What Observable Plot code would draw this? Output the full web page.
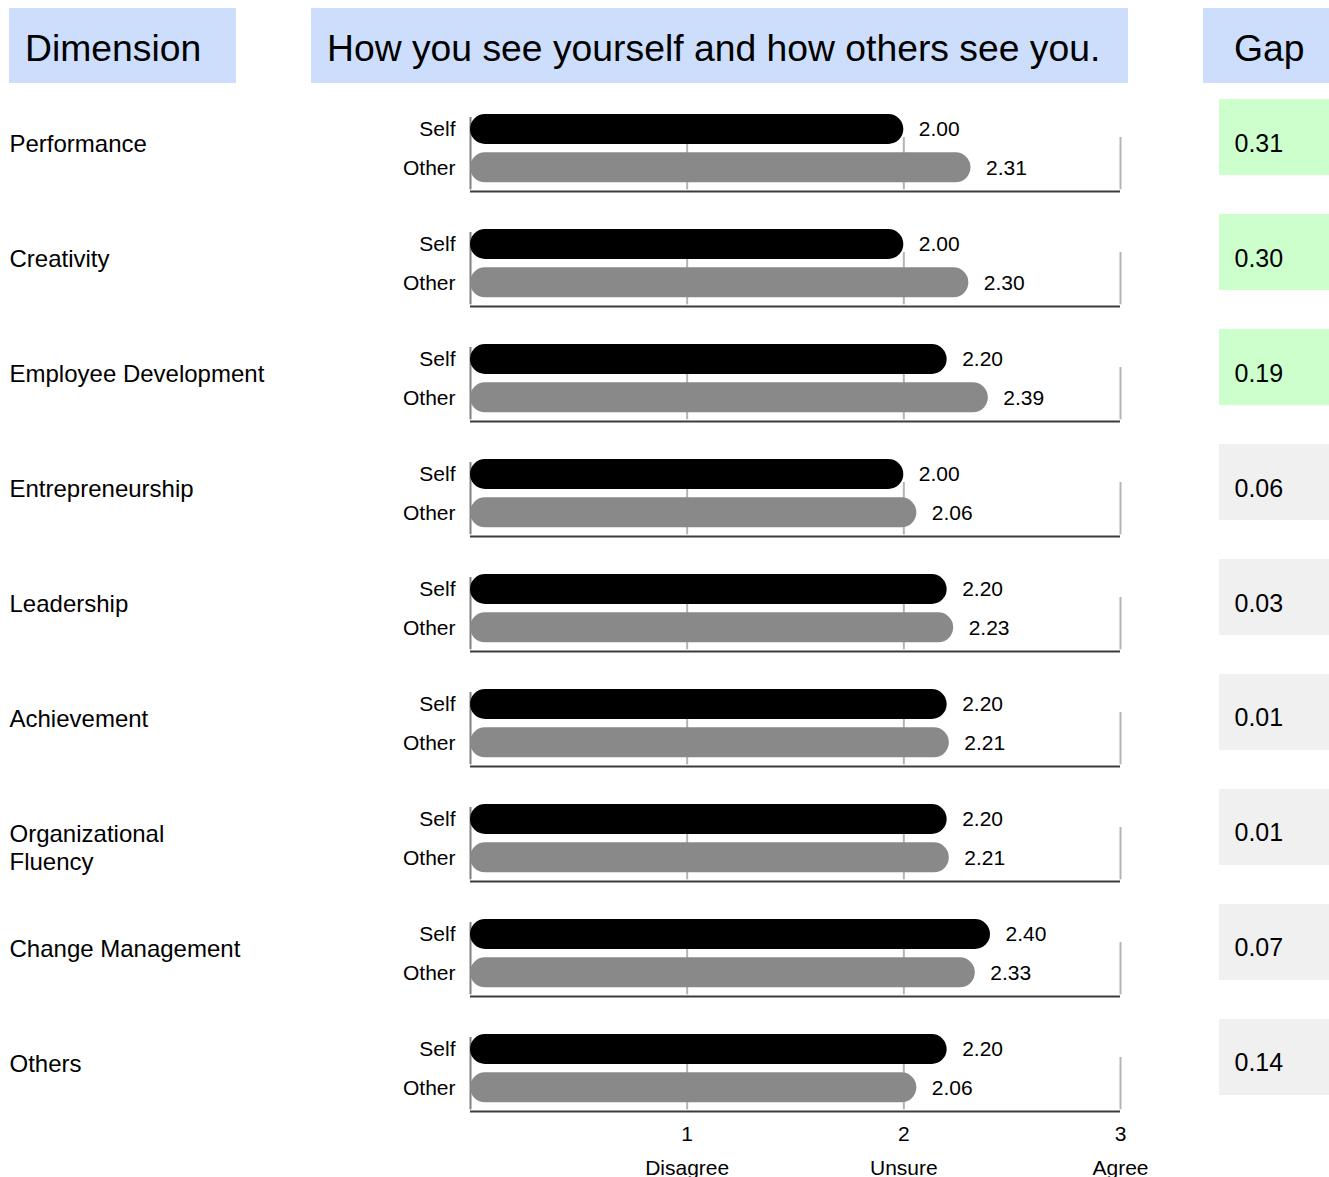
<!DOCTYPE html>
<html>
<head>
<meta charset="utf-8">
<script src="https://cdn.jsdelivr.net/npm/d3@7"></script>
<script src="https://cdn.jsdelivr.net/npm/@observablehq/plot@0.6"></script>
<style>
  html, body { margin: 0; padding: 0; background: #fff; overflow: hidden; }
  body { font-family: "Liberation Sans", Arial, sans-serif; width: 1329px; height: 1177px; position: relative; }
  .hdr { position: absolute; top: 8px; height: 75px; line-height: 81px; background: #cddefc; font-size: 37.3px; color: #000; box-sizing: border-box; white-space: nowrap; overflow: hidden; }
  #main { position: absolute; top: 99px; left: 0; }
  #gap { position: absolute; top: 99px; left: 1219px; }
</style>
</head>
<body>
<div class="hdr" style="left:9px;width:227px;padding-left:16px;">Dimension</div>
<div class="hdr" style="left:311px;width:817px;padding-left:16px;">How you see yourself and how others see you.</div>
<div class="hdr" style="left:1203px;width:126px;padding-left:31px;">Gap</div>
<div id="main"></div>
<div id="gap"></div>
<script>
const dims = ["Performance", "Creativity", "Employee Development", "Entrepreneurship", "Leadership", "Achievement", "Organizational\nFluency", "Change Management", "Others"];
const selfVals = [2.00, 2.00, 2.20, 2.00, 2.20, 2.20, 2.20, 2.40, 2.20];
const otherVals = [2.31, 2.30, 2.39, 2.06, 2.23, 2.21, 2.21, 2.33, 2.06];
const gaps = [0.31, 0.30, 0.19, 0.06, 0.03, 0.01, 0.01, 0.07, 0.14];
const kinds = ["Self", "Other"];
const tickValues = [1, 2, 3];
const tickLabels = ["Disagree", "Unsure", "Agree"];

const key = (d, k) => d + "|" + k;
const yDomain = dims.flatMap(d => [key(d, "Self"), key(d, "Other"), key(d, "space")]);
const bars = dims.flatMap((d, i) => [
  {dim: d, kind: kinds[0], value: selfVals[i], key: key(d, kinds[0])},
  {dim: d, kind: kinds[1], value: otherVals[i], key: key(d, kinds[1])}
]);
const grid = dims.flatMap(d => tickValues.map(t => ({dim: d, t})));
const lastSpace = key(dims[dims.length - 1], "space");
const font = "'Liberation Sans', Arial, sans-serif";

const main = Plot.plot({
  width: 1219,
  height: 1078,
  marginLeft: 470,
  marginRight: 99,
  marginTop: 6.667,
  marginBottom: 28,
  style: {fontFamily: font, background: "transparent", color: "#000"},
  x: {domain: [0, 3], axis: null},
  y: {type: "band", domain: yDomain, padding: 0.2174, round: false, axis: null},
  marks: [
    Plot.ruleX(grid, {x: "t", y1: d => key(d.dim, "Self"), y2: d => key(d.dim, "Other"), insetTop: 23, insetBottom: -7, stroke: "#b4b4b4", strokeWidth: 2}),
    Plot.ruleX(dims, {x: () => 0, y1: d => key(d, "Self"), y2: d => key(d, "Other"), insetTop: 3, insetBottom: -7, stroke: "#808080", strokeWidth: 2}),
    Plot.ruleY(dims, {y: d => key(d, "Other"), dy: 23.7, stroke: "#3c3c3c", strokeWidth: 2}),
    Plot.barX(bars.filter(b => b.kind === "Self"), {x1: () => 0, x2: "value", y: "key", fill: "#000", rx: 15}),
    Plot.barX(bars.filter(b => b.kind === "Other"), {x1: () => 0, x2: "value", y: "key", fill: "#898989", rx: 15}),
    Plot.text(bars, {x: "value", y: "key", text: d => d.value.toFixed(2), dx: 15, textAnchor: "start", fontSize: 21, fill: "#000"}),
    Plot.text(bars, {y: "key", text: "kind", frameAnchor: "left", dx: -15, textAnchor: "end", fontSize: 21, fill: "#000"}),
    Plot.text(dims, {y: d => key(d, "Self"), text: d => d, frameAnchor: "left", dx: -461, dy: 3, textAnchor: "start", lineAnchor: "top", fontSize: 24, lineHeight: 1.15, fill: "#000"}),
    Plot.text(tickValues, {x: d => d, y: () => lastSpace, text: (d, i) => `${d}\n${tickLabels[i]}`, lineAnchor: "top", dy: -9, fontSize: 21, lineHeight: 1.62, fill: "#000"})
  ]
});
document.getElementById("main").appendChild(main);

const gapRows = dims.map((d, i) => ({dim: d, gap: gaps[i], fill: gaps[i] > 0.15 ? "#ccffcc" : "#f0f0f0"}));
const gapPlot = Plot.plot({
  width: 110,
  height: 996,
  margin: 0,
  style: {fontFamily: font, background: "transparent", color: "#000"},
  x: {axis: null},
  y: {type: "band", domain: dims, paddingInner: 0.3391, paddingOuter: 0, align: 0, round: false, axis: null},
  color: {type: "identity"},
  marks: [
    Plot.cell(gapRows, {y: "dim", fill: "fill"}),
    Plot.text(gapRows, {y: "dim", text: d => d.gap.toFixed(2), frameAnchor: "left", dx: 15, dy: 6, textAnchor: "start", fontSize: 25, fill: "#000"})
  ]
});
document.getElementById("gap").appendChild(gapPlot);
</script>
</body>
</html>
